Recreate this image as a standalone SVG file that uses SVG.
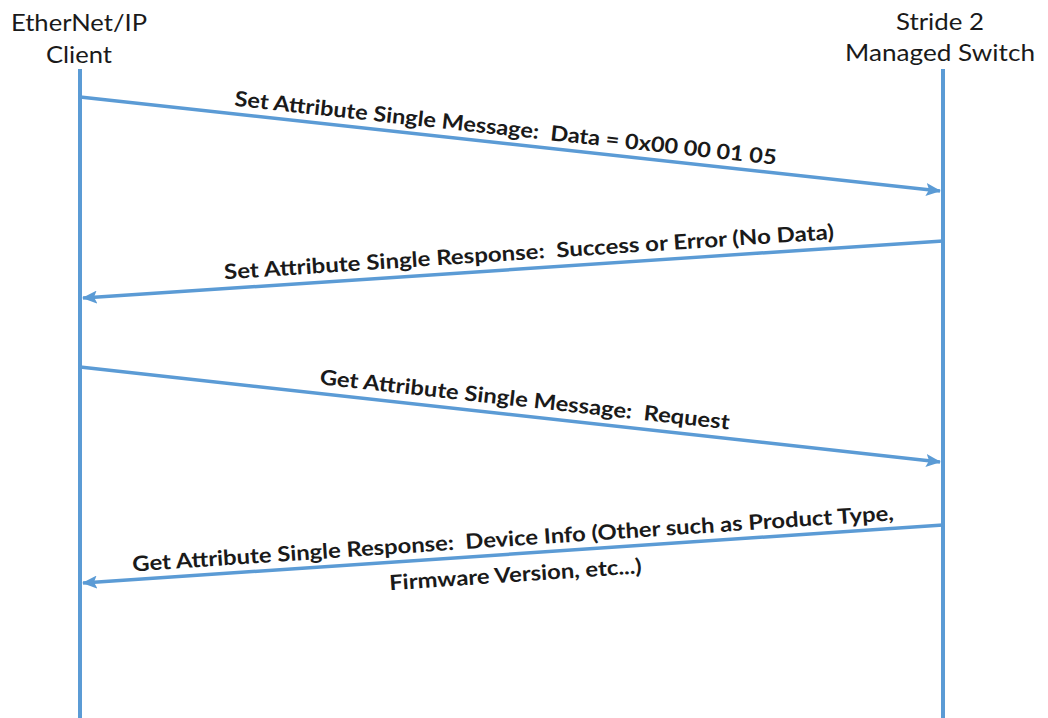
<svg xmlns="http://www.w3.org/2000/svg" width="1048" height="718" viewBox="0 0 1048 718">
<style>
.life{stroke:#5B9BD5;stroke-width:4;fill:none}
.msg{stroke:#5B9BD5;stroke-width:3.5;fill:none}
.hdr{font-family:"Lato","Open Sans","Liberation Sans",sans-serif;font-size:23px;fill:#1a1a1a;text-anchor:middle}
.lbl{font-family:"Lato","Open Sans","Liberation Sans",sans-serif;font-size:21px;font-weight:bold;fill:#1a1a1a;text-anchor:middle;white-space:pre}
</style>
<defs>
<marker id="ah" markerUnits="userSpaceOnUse" markerWidth="15" markerHeight="13" refX="14" refY="6.5" orient="auto">
<path d="M0,0 L15,6.5 L0,13 L3,6.5 Z" fill="#5B9BD5"/>
</marker>
</defs>
<rect width="1048" height="718" fill="#ffffff"/>
<g id="client">
<text class="hdr" x="79" y="31" textLength="136" lengthAdjust="spacingAndGlyphs">EtherNet/IP</text>
<text class="hdr" x="79" y="63" textLength="66" lengthAdjust="spacingAndGlyphs">Client</text>
<line class="life" x1="80" y1="69" x2="80" y2="718"/>
</g>
<g id="switch">
<text class="hdr" x="940" y="30" textLength="88" lengthAdjust="spacingAndGlyphs">Stride 2</text>
<text class="hdr" x="940" y="61" textLength="190" lengthAdjust="spacingAndGlyphs">Managed Switch</text>
<line class="life" x1="943" y1="69" x2="943" y2="718"/>
</g>
<g id="connectors">
<line class="msg" x1="80" y1="97" x2="940" y2="191" marker-end="url(#ah)"/>
<line class="msg" x1="943" y1="241" x2="83" y2="298" marker-end="url(#ah)"/>
<line class="msg" x1="80" y1="367" x2="940" y2="462" marker-end="url(#ah)"/>
<line class="msg" x1="943" y1="525" x2="83" y2="583" marker-end="url(#ah)"/>
<text class="lbl" xml:space="preserve" transform="translate(504,143.2) rotate(6.22)" x="0" y="-8" textLength="545" lengthAdjust="spacingAndGlyphs">Set Attribute Single Message:  Data = 0x00 00 01 05</text>
<text class="lbl" xml:space="preserve" transform="translate(530,268.2) rotate(-3.78)" x="0" y="-9" textLength="611" lengthAdjust="spacingAndGlyphs">Set Attribute Single Response:  Success or Error (No Data)</text>
<text class="lbl" xml:space="preserve" transform="translate(523,415.8) rotate(6.29)" x="0" y="-9" textLength="412" lengthAdjust="spacingAndGlyphs">Get Attribute Single Message:  Request</text>
<text class="lbl" xml:space="preserve" transform="translate(514,553.8) rotate(-3.85)" x="0" y="-8" textLength="763" lengthAdjust="spacingAndGlyphs">Get Attribute Single Response:  Device Info (Other such as Product Type,</text>
<text class="lbl" xml:space="preserve" transform="translate(514,553.8) rotate(-3.85)" x="0" y="28" textLength="253" lengthAdjust="spacingAndGlyphs">Firmware Version, etc...)</text>
</g>
</svg>
